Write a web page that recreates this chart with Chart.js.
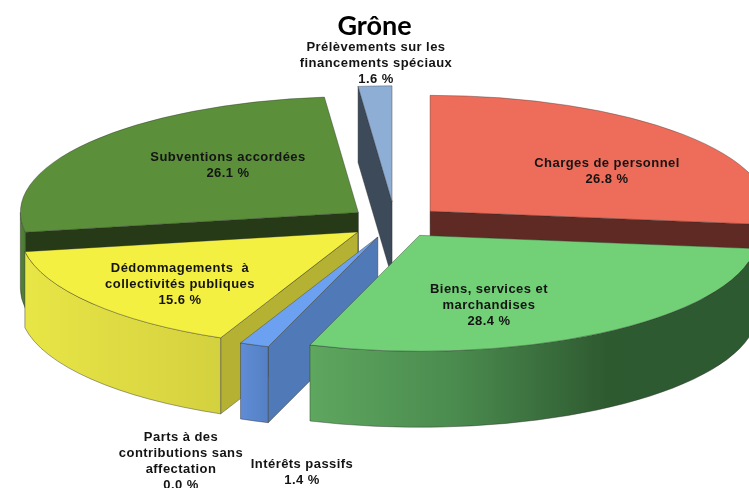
<!DOCTYPE html>
<html><head><meta charset="utf-8">
<style>html,body{margin:0;padding:0;background:#fff}#w{width:749px;height:488px;position:relative}</style>
<script src="https://cdn.jsdelivr.net/npm/chart.js@4"></script>
</head><body><div id="w"><canvas id="c" width="749" height="488"></canvas></div>
<script>
const chartTitle = 'Grône';
const categories = ['Charges de personnel','Biens, services et marchandises','Intérêts passifs','Parts à des contributions sans affectation','Dédommagements à collectivités publiques','Subventions accordées','Prélèvements sur les financements spéciaux'];
const values = [26.8,28.4,1.4,0.0,15.6,26.1,1.6];
const labelLines = [
  ['Charges de personnel','26.8 %'],
  ['Biens, services et','marchandises','28.4 %'],
  ['Intérêts passifs','1.4 %'],
  ['Parts à des','contributions sans','affectation','0.0 %'],
  ['Dédommagements  à','collectivités publiques','15.6 %'],
  ['Subventions accordées','26.1 %'],
  ['Prélèvements sur les','financements spéciaux','1.6 %']
];
const labelX = [607,489,302,181,180,228,376];
const labelY = [163,289,464,437,268,157,47];
const topColors = ['#ee6d5a','#72d077','#6ca0f0','#6ca0f0','#f4f042','#5b8f3a','#8eaed6'];
const cutColors = ['#5f2a24','#2e5a30','#4f79b7','#4f79b7','#b5b233','#273a18','#3c4a5a'];
const rimColors = [
  ['#5f2a24','#5f2a24'],
  ['#5ea75f','#4a8a4e','#2e5a30','#2d5a30'],
  ['#5f8cd6','#5580c4'],
  ['#5f8cd6','#5580c4'],
  ['#e8e546','#d4d13f'],
  ['#4f7f33','#4f7f33'],
  ['#3c4a5a','#3c4a5a']
];
const explode = [47,46,47,47,47,46,59];
const drawOrder = [5,6,0,4,3,2,1];
const pie = {x:395,y:222,radius:338,squash:0.343,depth:76};
const edge = 'rgba(45,45,45,0.55)';

const pie3d = {
  id:'pie3d',
  beforeDatasetsDraw(chart){
    const ctx = chart.ctx, k = pie.squash, D = pie.depth;
    const arcs = chart.getDatasetMeta(0).data;
    drawOrder.forEach(i=>{
      const el = arcs[i];
      if(!el.circumference) return;
      const a1 = el.startAngle, a2 = el.endAngle, R = el.outerRadius, mid=(a1+a2)/2;
      const ax = pie.x + Math.cos(mid)*explode[i], ay = pie.y + Math.sin(mid)*explode[i]*k;
      const pt = a=>[ax+R*Math.cos(a), ay+R*k*Math.sin(a)];
      const wall = a=>{
        const p = pt(a);
        ctx.beginPath();
        ctx.moveTo(ax,ay);ctx.lineTo(p[0],p[1]);ctx.lineTo(p[0],p[1]+D);ctx.lineTo(ax,ay+D);ctx.closePath();
        ctx.fillStyle = cutColors[i];ctx.fill();
        ctx.strokeStyle = edge;ctx.lineWidth = 0.8;ctx.stroke();
      };
      if(Math.cos(a1)<0) wall(a1);
      if(Math.cos(a2)>0) wall(a2);
      const lo = Math.max(a1,0), hi = Math.min(a2,Math.PI);
      if(hi>lo){
        const xs=[pt(lo)[0],pt(hi)[0]];
        const g = ctx.createLinearGradient(Math.min(...xs),0,Math.max(...xs),0);
        const st = rimColors[i];
        st.forEach((c,n)=>g.addColorStop(n/(st.length-1),c));
        const ph = pt(hi);
        ctx.beginPath();
        ctx.ellipse(ax,ay,R,R*k,0,lo,hi);
        ctx.lineTo(ph[0],ph[1]+D);
        ctx.ellipse(ax,ay+D,R,R*k,0,hi,lo,true);
        ctx.closePath();
        ctx.fillStyle = g;ctx.fill();
        ctx.strokeStyle = edge;ctx.lineWidth = 0.8;ctx.stroke();
      }
      ctx.save();
      ctx.translate(ax,ay);ctx.scale(1,k);ctx.translate(-el.x,-el.y);
      el.draw(ctx);
      ctx.restore();
    });
    return false;
  },
  afterDraw(chart){
    const ctx = chart.ctx;
    ctx.save();
    ctx.font = 'bold 13px "Liberation Sans", Arial, sans-serif';
    ctx.letterSpacing = '0.45px';
    ctx.fillStyle = '#141414';
    ctx.textAlign = 'center';
    ctx.textBaseline = 'middle';
    labelLines.forEach((lines,i)=>{
      lines.forEach((t,n)=>ctx.fillText(t,labelX[i],labelY[i]+n*16.3));
    });
    ctx.restore();
  }
};

new Chart(document.getElementById('c'),{
  type:'pie',
  data:{labels:categories,datasets:[{
    data:values,
    backgroundColor:topColors,
    borderColor:edge,
    borderWidth:1
  }]},
  options:{
    responsive:false,
    animation:false,
    radius:pie.radius,
    layout:{padding:0},
    plugins:{
      legend:{display:false},
      tooltip:{enabled:false},
      title:{display:true,text:chartTitle,color:'#000',font:{family:'Lato',size:27,weight:'bold'},padding:{top:10,bottom:6}}
    }
  },
  plugins:[pie3d]
});
</script></body></html>
